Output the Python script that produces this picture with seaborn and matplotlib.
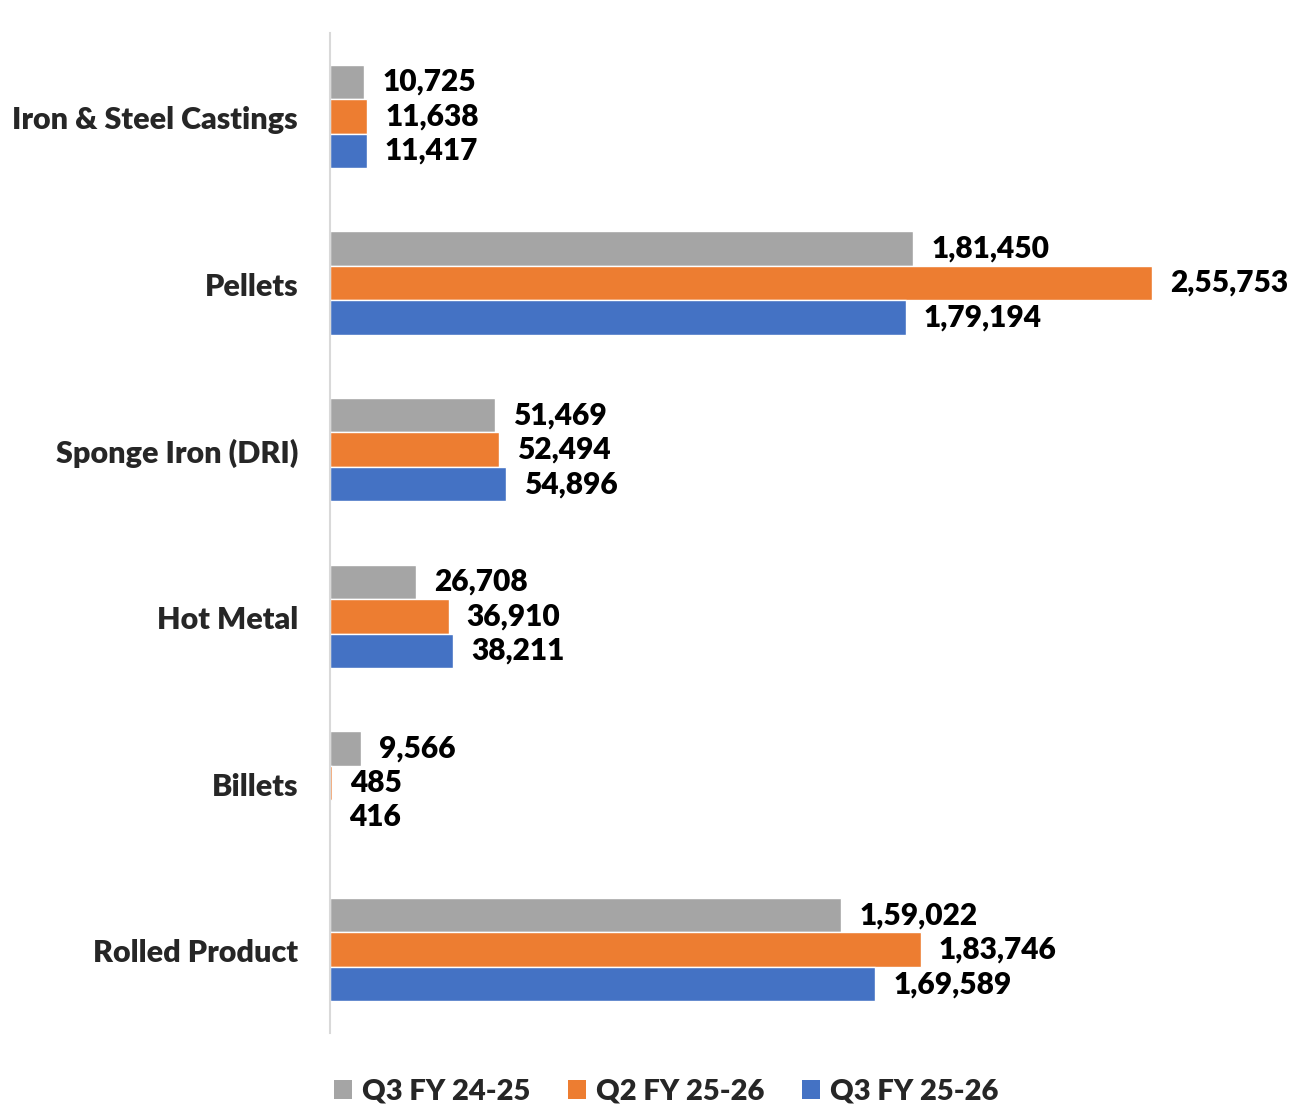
import matplotlib
matplotlib.use("Agg")
import matplotlib.pyplot as plt
import matplotlib.transforms as mtransforms
import seaborn as sns
import pandas as pd
from matplotlib.patches import Patch

categories = ["Iron & Steel Castings", "Pellets", "Sponge Iron (DRI)",
              "Hot Metal", "Billets", "Rolled Product"]
series_names = ["Q3 FY 24-25", "Q2 FY 25-26", "Q3 FY 25-26"]
q3_fy2425 = [10725, 181450, 51469, 26708, 9566, 159022]
q2_fy2526 = [11638, 255753, 52494, 36910, 485, 183746]
q3_fy2526 = [11417, 179194, 54896, 38211, 416, 169589]
colors = ["#A5A5A5", "#ED7D31", "#4472C4"]


def indian_format(n):
    s = str(int(n))
    if len(s) <= 3:
        return s
    head, tail = s[:-3], s[-3:]
    groups = []
    while len(head) > 2:
        groups.insert(0, head[-2:])
        head = head[:-2]
    if head:
        groups.insert(0, head)
    return ",".join(groups) + "," + tail


rows = []
for name, vals in zip(series_names, [q3_fy2425, q2_fy2526, q3_fy2526]):
    for cat, v in zip(categories, vals):
        rows.append({"Category": cat, "Series": name, "Value": v})
df = pd.DataFrame(rows)

sns.set_theme(style="white")
plt.rcParams["font.family"] = ["Lato", "DejaVu Sans"]
WEIGHT = "heavy"

fig = plt.figure(figsize=(12.89, 11.06), dpi=100)
ax = fig.add_axes([330 / 1289, 1 - 1033 / 1106, 959 / 1289, 1000 / 1106])

sns.barplot(data=df, y="Category", x="Value", hue="Series", order=categories,
            hue_order=series_names, palette=colors, orient="h", width=0.62,
            saturation=1, legend=False, ax=ax)

ax.set_xlim(0, 298400)
ax.set_ylim(5.5, -0.5)
ax.set_xlabel("")
ax.set_ylabel("")
ax.set_xticks([])
for side in ["top", "right", "bottom"]:
    ax.spines[side].set_visible(False)
ax.spines["left"].set_color("#D9D9D9")
ax.spines["left"].set_linewidth(1.5)
ax.tick_params(axis="y", length=0, pad=23, labelsize=22)
for lbl in ax.get_yticklabels():
    lbl.set_fontweight(WEIGHT)
    lbl.set_transform(lbl.get_transform() + mtransforms.ScaledTranslation(0, -0.01, fig.dpi_scale_trans))

shift = mtransforms.ScaledTranslation(0, -0.05, fig.dpi_scale_trans)
for container in ax.containers:
    labels = [indian_format(b.get_width()) for b in container]
    texts = ax.bar_label(container, labels=labels, padding=13, fontsize=21.5,
                         fontweight=WEIGHT, color="black", clip_on=False)
    for t in texts:
        t.set_transform(t.get_transform() + shift)

handles = [Patch(facecolor=c, edgecolor="none") for c in colors]
fig.legend(handles, series_names, loc="center", bbox_to_anchor=(0.517, 0.013),
           ncol=3, frameon=False, handlelength=0.6, handleheight=0.6,
           handletextpad=0.35, columnspacing=1.3,
           prop={"family": ["Lato", "DejaVu Sans"], "weight": WEIGHT, "size": 21})

fig.savefig("out.png", dpi=100)
